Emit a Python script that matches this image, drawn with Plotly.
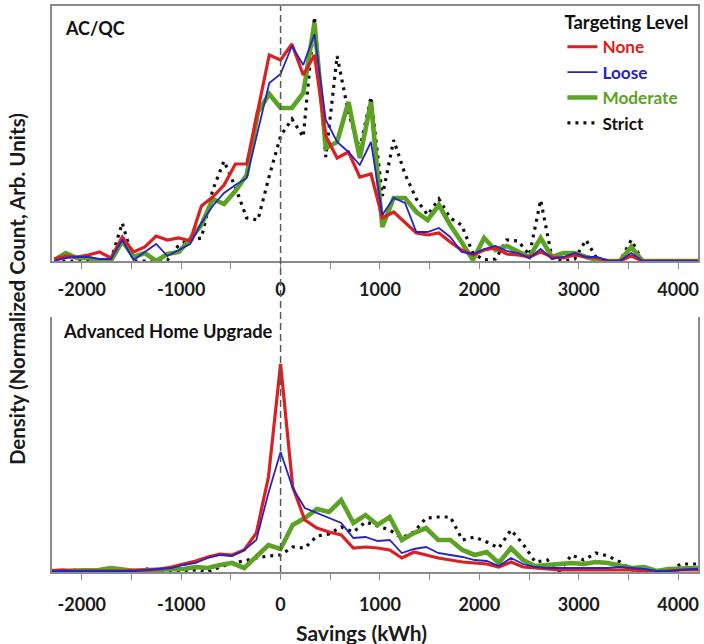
import plotly.graph_objects as go

# ---------------- data ----------------
# AC/QC panel: bin centres (kWh) and normalized counts (arbitrary units)
savings_acqc = [-2276, -2162, -2048, -1935, -1821, -1707, -1593, -1479, -1366, -1252,
                -1138, -1024, -910, -797, -683, -569, -455, -341, -228, -114,
                0, 114, 228, 341, 455, 569, 683, 797, 910, 1024,
                1138, 1252, 1366, 1479, 1593, 1707, 1821, 1935, 2048, 2162,
                2276, 2390, 2504, 2617, 2731, 2845, 2959, 3073, 3186, 3300,
                3414, 3528, 3642, 3755, 3869, 3983, 4097, 4211]
none_acqc = [2, 5, 4, 6, 9, 3, 24, 9, 14, 25, 21, 23, 20, 55, 64, 76, 97, 97, 151, 206,
             201, 217, 186, 206, 125, 103, 109, 84, 87, 43, 49, 39, 28, 26, 28, 19, 11, 6, 11, 13,
             7, 6, 4, 9, 4, 3, 6, 4, 3, 0, 0, 5, 0, 0, 0, 0, 0, 0]
loose_acqc = [0, 3, 4, 4, 2, 2, 21, 1, 9, 17, 5, 11, 17, 38, 55, 68, 76, 83, 129, 178,
              187, 215, 196, 227, 141, 119, 109, 96, 119, 46, 63, 58, 29, 29, 33, 24, 9, 7, 12, 15,
              10, 8, 3, 12, 2, 4, 8, 4, 4, 0, 0, 8, 0, 0, 0, 0, 0, 0]
moderate_acqc = [1, 8, 3, 3, 0, 0, 20, 4, 8, 0, 7, 9, 22, 36, 62, 57, 70, 86, 149, 167,
                 153, 153, 168, 238, 113, 119, 159, 103, 159, 34, 63, 63, 49, 41, 56, 36, 19, 1, 23, 11,
                 15, 9, 4, 23, 4, 8, 8, 4, 1, 0, 0, 14, 0, 0, 0, 0, 0, 0]
strict_acqc = [0, 0, 0, 0, 0, 1, 38, 0, 0, 0, 1, 16, 21, 23, 71, 100, 74, 43, 41, 85,
               125, 142, 124, 244, 104, 205, 148, 112, 164, 65, 121, 87, 62, 46, 62, 43, 36, 8, 1, 2,
               21, 20, 6, 61, 3, 0, 2, 21, 2, 0, 0, 21, 0, 0, 0, 0, 0, 0]

# Advanced Home Upgrade panel
savings_ahu = [-2318, -2196, -2074, -1952, -1830, -1708, -1586, -1464, -1342, -1220,
               -1098, -976, -854, -732, -610, -488, -366, -244, -122, 0,
               122, 244, 366, 488, 610, 732, 854, 976, 1098, 1220,
               1342, 1464, 1586, 1708, 1830, 1952, 2074, 2196, 2318, 2440,
               2562, 2684, 2806, 2928, 3050, 3172, 3294, 3416, 3538, 3660,
               3782, 3904, 4026, 4148, 4270]
none_ahu = [1, 2, 1, 1, 1, 1, 1, 2, 2, 3, 5, 8,
            11, 15, 18, 17, 22, 39, 95, 208, 85, 52, 44, 40, 37, 24, 25, 24,
            22, 14, 20, 17, 14, 12, 10, 9, 8, 5, 10, 5, 4,
            3, 2, 2, 2, 2, 2, 2, 2, 1, 0, 1, 2, 2, 2]
loose_ahu = [1, 1, 1, 1, 1, 1, 1, 1, 2, 3, 4, 7,
             9, 14, 17, 16, 22, 32, 79, 120, 84, 64, 59, 54, 49, 34, 35, 31,
             32, 19, 23, 25, 19, 17, 15, 12, 11, 6, 14, 8, 5,
             4, 4, 4, 4, 4, 4, 5, 4, 3, 1, 1, 2, 3, 3]
moderate_ahu = [1, 1, 1, 1, 2, 4, 2, 1, 2, 2, 2, 3,
                5, 4, 7, 9, 4, 15, 27, 23, 47, 54, 63, 60, 72, 49, 57, 47,
                55, 32, 39, 44, 32, 32, 22, 17, 20, 9, 24, 12, 6,
                7, 8, 9, 8, 10, 9, 6, 4, 5, 1, 3, 4, 4, 4]
strict_ahu = [0, 0, 2, 0, 0, 2, 0, 0, 3, 0, 0, 1,
              2, 0, 5, 9, 11, 14, 16, 17, 25, 24, 36, 38, 45, 40, 50, 46,
              42, 34, 40, 54, 55, 55, 32, 35, 30, 24, 42, 28, 10,
              12, 1, 17, 12, 19, 16, 10, 2, 1, 0, 1, 8, 8, 8]

tick_values = [-2000, -1000, 0, 1000, 2000, 3000, 4000]
tick_labels = ["-2000", "-1000", "0", "1000", "2000", "3000", "4000"]
minor_tick_values = [-1500, -500, 500, 1500, 2500, 3500]
levels = ["None", "Loose", "Moderate", "Strict"]
panel_titles = ["AC/QC", "Advanced Home Upgrade"]

# ---------------- styling ----------------
FONT = "Lato"
RED = "#DA2020"
BLUE = "#2424C8"
GREEN = "#5CA224"
BLACK = "#111111"
AXIS = "#8a8a8a"

styles = {
    "None": dict(color=RED, width=3.2, dash="solid"),
    "Loose": dict(color=BLUE, width=1.8, dash="solid"),
    "Moderate": dict(color=GREEN, width=4.6, dash="solid"),
    "Strict": dict(color=BLACK, width=3.2, dash="3px,5px"),
}
ranks = {"None": 1, "Loose": 2, "Moderate": 3, "Strict": 4}
draw_order = ["Strict", "Moderate", "None", "Loose"]

panels = [
    ("x", "y", savings_acqc, {"None": none_acqc, "Loose": loose_acqc,
                               "Moderate": moderate_acqc, "Strict": strict_acqc}, True),
    ("x2", "y2", savings_ahu, {"None": none_ahu, "Loose": loose_ahu,
                                "Moderate": moderate_ahu, "Strict": strict_ahu}, False),
]

fig = go.Figure()
for xa, ya, xs, series, show in panels:
    for lvl in draw_order:
        st = styles[lvl]
        name = f'<span style="color:{st["color"]}"><b>{lvl}</b></span>'
        fig.add_trace(go.Scatter(
            x=xs, y=series[lvl], mode="lines", name=name,
            xaxis=xa, yaxis=ya, showlegend=show, legendrank=ranks[lvl],
            line=dict(color=st["color"], width=st["width"], dash=st["dash"]),
            hoverinfo="skip",
        ))

W, H = 704, 644
ML, MR, MT, MB = 52, 4, 6, 72
PH = H - MT - MB  # 566
top_dom = [(572 - 261) / PH, 1.0]
bot_dom = [0.0, (572 - 317) / PH]

def xaxis_common(anchor, standoff, mirror):
    return dict(
        anchor=anchor, range=[-2300, 4200], showgrid=False, zeroline=False,
        showline=True, linecolor=AXIS, linewidth=1.5, mirror=mirror,
        tickmode="array", tickvals=tick_values, ticktext=tick_labels,
        ticks="outside", ticklen=6, tickwidth=1.3, tickcolor=AXIS,
        tickfont=dict(family=FONT, size=18, color="#1a1a1a", weight="bold"),
        ticklabelstandoff=standoff,
        minor=dict(tickmode="array", tickvals=minor_tick_values, ticks="outside",
                   ticklen=6, tickwidth=1.3, tickcolor=AXIS),
    )

def yaxis_common(anchor, dom):
    return dict(
        anchor=anchor, domain=dom, range=[0, 255], showgrid=False, zeroline=False,
        showticklabels=False, ticks="", showline=True, linecolor=AXIS,
        linewidth=1.5, mirror=True,
    )

fig.update_layout(
    width=W, height=H, autosize=False,
    margin=dict(l=ML, r=MR, t=MT, b=MB, pad=0),
    paper_bgcolor="white", plot_bgcolor="white",
    font=dict(family=FONT, color="#1a1a1a"),
    xaxis=xaxis_common("y", 6, True),
    yaxis=yaxis_common("x", top_dom),
    xaxis2=xaxis_common("y2", 10, False),
    yaxis2=yaxis_common("x2", bot_dom),
    legend=dict(
        x=(564 - ML) / (W - ML - MR), xanchor="left",
        y=1 - (5 - MT) / PH, yanchor="top",
        bgcolor="rgba(0,0,0,0)", borderwidth=0,
        title=dict(text="<b>Targeting Level</b>", font=dict(family=FONT, size=18.5, color="#111")),
        font=dict(family=FONT, size=17.2),
        itemwidth=30, tracegroupgap=0,
    ),
    showlegend=True,
)

# vertical dashed reference line at zero savings (spans both panels)
fig.add_shape(type="line", xref="x", yref="paper", x0=0, x1=0, y0=0, y1=1,
              line=dict(color="#5a5a5a", width=1.5, dash="7px,4px"), layer="above")

# panel titles
fig.add_annotation(text=f"<b>{panel_titles[0]}</b>", xref="x domain", yref="y domain",
                   x=(63 - ML) / 648, y=(261 - 28) / 255, xanchor="left", yanchor="middle",
                   showarrow=False, font=dict(family=FONT, size=18, color="#111"))
fig.add_annotation(text=f"<b>{panel_titles[1]}</b>", xref="x2 domain", yref="y2 domain",
                   x=(61 - ML) / 648, y=(572 - 331) / 255, xanchor="left", yanchor="middle",
                   showarrow=False, font=dict(family=FONT, size=18.3, color="#111"))

# axis titles
fig.add_annotation(text="<b>Density (Normalized Count, Arb. Units)</b>", xref="paper", yref="paper",
                   x=(17 - ML) / 648, y=(572 - 289) / PH, xanchor="center", yanchor="middle", textangle=-90,
                   showarrow=False, font=dict(family=FONT, size=20.5, color="#1a1a1a"))
fig.add_annotation(text="<b>Savings (kWh)</b>", xref="paper", yref="paper",
                   x=(362 - ML) / 648, y=(572 - 632) / PH, xanchor="center", yanchor="middle",
                   showarrow=False, font=dict(family=FONT, size=21, color="#1a1a1a"))

fig.write_html("out.html")
